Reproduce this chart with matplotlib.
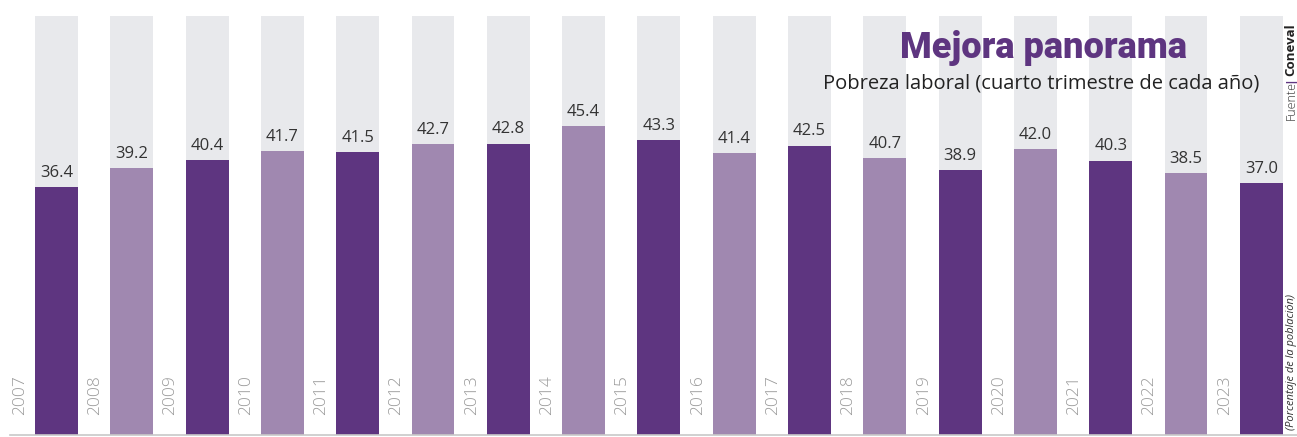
import matplotlib.pyplot as plt

# Pobreza laboral, cuarto trimestre de cada año
years = [2007, 2008, 2009, 2010, 2011, 2012, 2013, 2014, 2015,
         2016, 2017, 2018, 2019, 2020, 2021, 2022, 2023]
values = [36.4, 39.2, 40.4, 41.7, 41.5, 42.7, 42.8, 45.4, 43.3,
          41.4, 42.5, 40.7, 38.9, 42.0, 40.3, 38.5, 37.0]

dark = '#5e3580'
light = '#a088b0'
grey = '#e8e9ec'

plt.rcParams['font.family'] = ['Open Sans', 'DejaVu Sans']

fig = plt.figure(figsize=(12.97, 4.37), dpi=100)
ax = fig.add_axes([0, 0, 1, 1])

x = list(range(len(years)))
colors = [dark if i % 2 == 0 else light for i in x]

# background bars
ax.bar(x, [61.5] * len(x), width=0.57, color=grey, zorder=1)
ax.bar(x, values, width=0.57, color=colors, zorder=2)

# baseline
ax.plot([-0.62, 16.47], [0, 0], color='#c8c8c8', lw=1.2, zorder=3)

for i, (yr, v) in enumerate(zip(years, values)):
    ax.text(i, v + 0.9, f'{v:.1f}', ha='center', va='bottom',
            fontsize=12, color='#333333', zorder=4)
    ax.text(i - 0.485, 2.9, str(yr), rotation=90, ha='center', va='bottom',
            fontsize=12.5, color='#9a9a9a', fontweight='light')

ax.set_xlim(-0.75, 16.474)
ax.set_ylim(-0.29, 63.88)
ax.axis('off')

# title block
fig.text(0.9155, 0.89, 'Mejora panorama', ha='right', va='center',
         fontsize=26, fontweight='heavy', color=dark,
         family=['Roboto', 'DejaVu Sans'])
fig.text(0.971, 0.81, 'Pobreza laboral (cuarto trimestre de cada año)',
         ha='right', va='center', fontsize=14.5, color='#222222')

# side notes
fig.text(0.9955, 1 - 120 / 437, 'Fuente', rotation=90, ha='center',
         va='bottom', fontsize=9, color='#333333', fontweight='light')
fig.text(0.9955, 1 - 80 / 437, '|', rotation=90, ha='center',
         va='center', fontsize=9, color=dark, fontweight='bold')
fig.text(0.9955, 1 - 76 / 437, 'Coneval', rotation=90, ha='center',
         va='bottom', fontsize=9.5, color='#222222', fontweight='bold')
fig.text(0.9955, 0.015, '(Porcentaje de la población)', rotation=90,
         ha='center', va='bottom', fontsize=8, color='#333333',
         style='italic')

fig.savefig('out.png', dpi=100)
